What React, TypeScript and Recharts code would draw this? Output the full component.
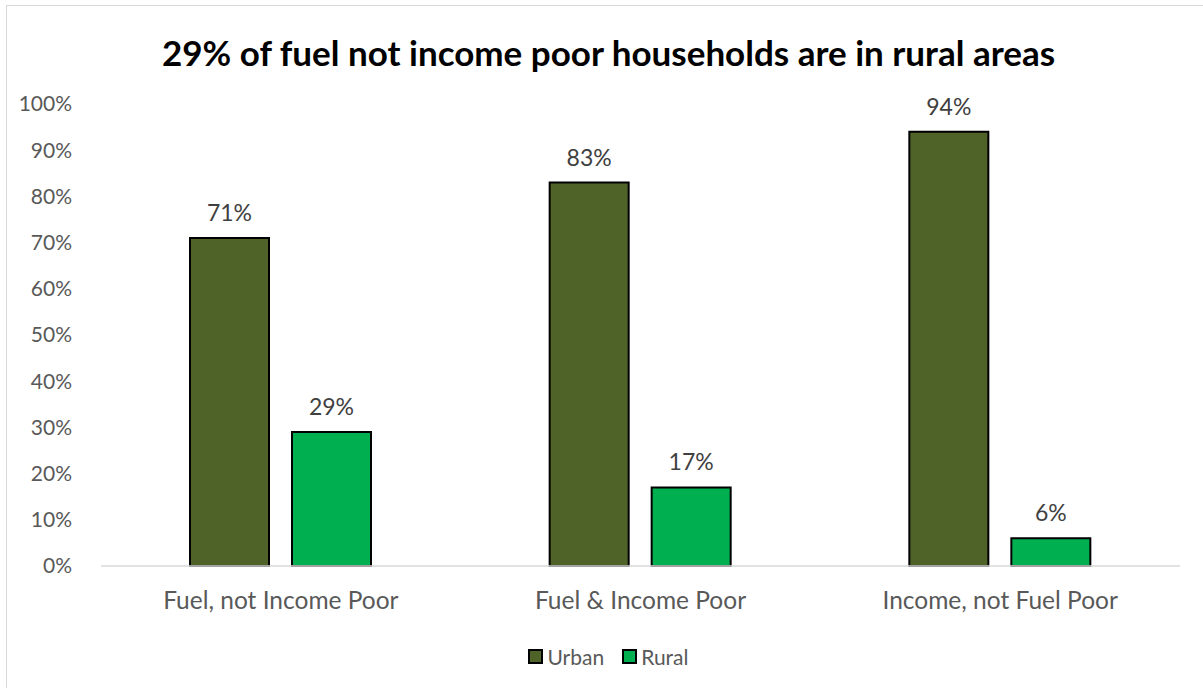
import { BarChart, Bar, XAxis, YAxis, LabelList } from 'recharts';

const categories = ['Fuel, not Income Poor', 'Fuel & Income Poor', 'Income, not Fuel Poor'];
const urban = [71, 83, 94];
const rural = [29, 17, 6];
const yTicks = [0, 10, 20, 30, 40, 50, 60, 70, 80, 90, 100];
const series = [
  { key: 'Urban', color: '#4f6228' },
  { key: 'Rural', color: '#00b050' },
];

const data = categories.map((name, i) => ({ name, Urban: urban[i], Rural: rural[i] }));

const FONT = 'Lato, "Open Sans", sans-serif';

const pct = (v: number) => `${v}%`;

const App = () => {
  return (
    <div
      style={{
        position: 'absolute',
        left: 6,
        top: 5,
        width: 1205,
        height: 690,
        border: '1px solid #d9d9d9',
        background: '#fff',
        fontFamily: FONT,
      }}
    >
      <div
        style={{
          position: 'absolute',
          top: 26,
          left: 0,
          width: 1203,
          textAlign: 'center',
          fontSize: 35,
          lineHeight: '40px',
          fontWeight: 'bold',
          color: '#000',
        }}
      >
        29% of fuel not income poor households are in rural areas
      </div>
      <BarChart
        width={1203}
        height={640}
        data={data}
        margin={{ top: 98, right: 30, bottom: 0, left: 0 }}
        barCategoryGap={89}
        barGap={23}
      >
        <XAxis
          dataKey="name"
          axisLine={{ stroke: '#d9d9d9', strokeWidth: 1.5 }}
          tickLine={false}
          tick={{ fill: '#595959', fontSize: 24.5, fontFamily: FONT }}
          tickMargin={20}
          height={80}
        />
        <YAxis
          domain={[0, 100]}
          ticks={yTicks}
          tickFormatter={pct}
          axisLine={false}
          tickLine={false}
          tick={{ fill: '#595959', fontSize: 21, fontFamily: FONT, dx: -4 }}
          tickMargin={19}
          width={94}
          interval={0}
        />
        {series.map((s) => (
          <Bar key={s.key} dataKey={s.key} fill={s.color} stroke="#000" strokeWidth={2} isAnimationActive={false}>
            <LabelList dataKey={s.key} position="top" offset={17} formatter={pct} fill="#404040" fontSize={23} fontFamily={FONT} />
          </Bar>
        ))}
      </BarChart>
      <div
        style={{
          position: 'absolute',
          top: 638,
          left: 0,
          width: 1203,
          display: 'flex',
          justifyContent: 'center',
          alignItems: 'center',
          gap: 18,
          fontSize: 21,
          color: '#595959',
        }}
      >
        {series.map((s) => (
          <span key={s.key} style={{ display: 'flex', alignItems: 'center', gap: 4 }}>
            <span
              style={{
                display: 'inline-block',
                width: 11,
                height: 11,
                background: s.color,
                border: '2px solid #000',
              }}
            />
            {s.key}
          </span>
        ))}
      </div>
    </div>
  );
};

export default App;
